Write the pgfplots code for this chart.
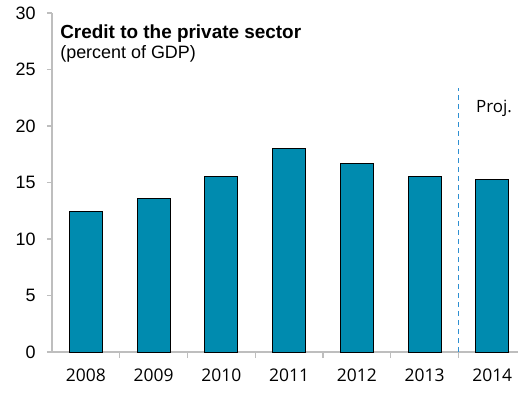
\documentclass[border=0pt]{standalone}
\usepackage{pgfplots}
\pgfplotsset{compat=1.18}
\usepackage{fontspec}
\setmainfont{Liberation Sans}
\newfontfamily\segoe{Open Sans}
\definecolor{barblue}{HTML}{008BAF}
\definecolor{axgray}{HTML}{BEBEBE}
\definecolor{dashblue}{HTML}{2E8FD2}
\begin{document}
\begin{tikzpicture}
\path[use as bounding box] (-52bp,-43bp) rectangle (466bp,352bp);
\begin{axis}[
  at={(0,0)}, anchor=south west,
  scale only axis, width=466bp, height=339bp,
  xmin=-0.5, xmax=6.38, ymin=0, ymax=30,
  axis x line*=bottom, axis y line*=left,
  axis line style={axgray, line width=1.2pt},
  ytick={0,5,...,30},
  yticklabel style={font=\fontsize{18}{18}\selectfont, text=black, xshift=-8bp},
  /pgf/number format/assume math mode=true,
  xtick={0,...,6},
  xticklabels={2008,2009,2010,2011,2012,2013,2014},
  xticklabel style={font=\segoe\fontsize{17.5}{17.5}\selectfont, text=black, yshift=-8bp},
  minor xtick={0.5,1.5,...,5.5},
  major x tick style={draw=none},
  minor x tick style={axgray, line width=1.2pt},
  minor tick length=6bp,
  ytick style={axgray, line width=1.2pt},
  major tick length=5bp,
  tick align=outside,
  xtick pos=bottom, ytick pos=left,
  clip=false,
]
\addplot[ybar, bar width=33bp, fill=barblue, draw=black, line width=1pt]
  coordinates {(0,12.4) (1,13.6) (2,15.5) (3,18.0) (4,16.7) (5,15.5) (6,15.3)};
\addplot[dashblue, dashed, line width=1.1pt, dash pattern=on 5bp off 4bp]
  coordinates {(5.5,0) (5.5,23.4)};
\node[anchor=base west, font=\segoe\fontsize{17}{17}\selectfont, inner sep=0pt] at (axis cs:5.76,21.2) {Proj.};
\node[anchor=base west, inner sep=0pt, font=\fontsize{19}{19}\selectfont\bfseries] at (axis cs:-0.38,27.7)
  {Credit to the private sector};
\node[anchor=base west, inner sep=0pt, font=\fontsize{18}{18}\selectfont] at (axis cs:-0.38,26.0)
  {(percent of GDP)};
\end{axis}
\end{tikzpicture}
\end{document}
